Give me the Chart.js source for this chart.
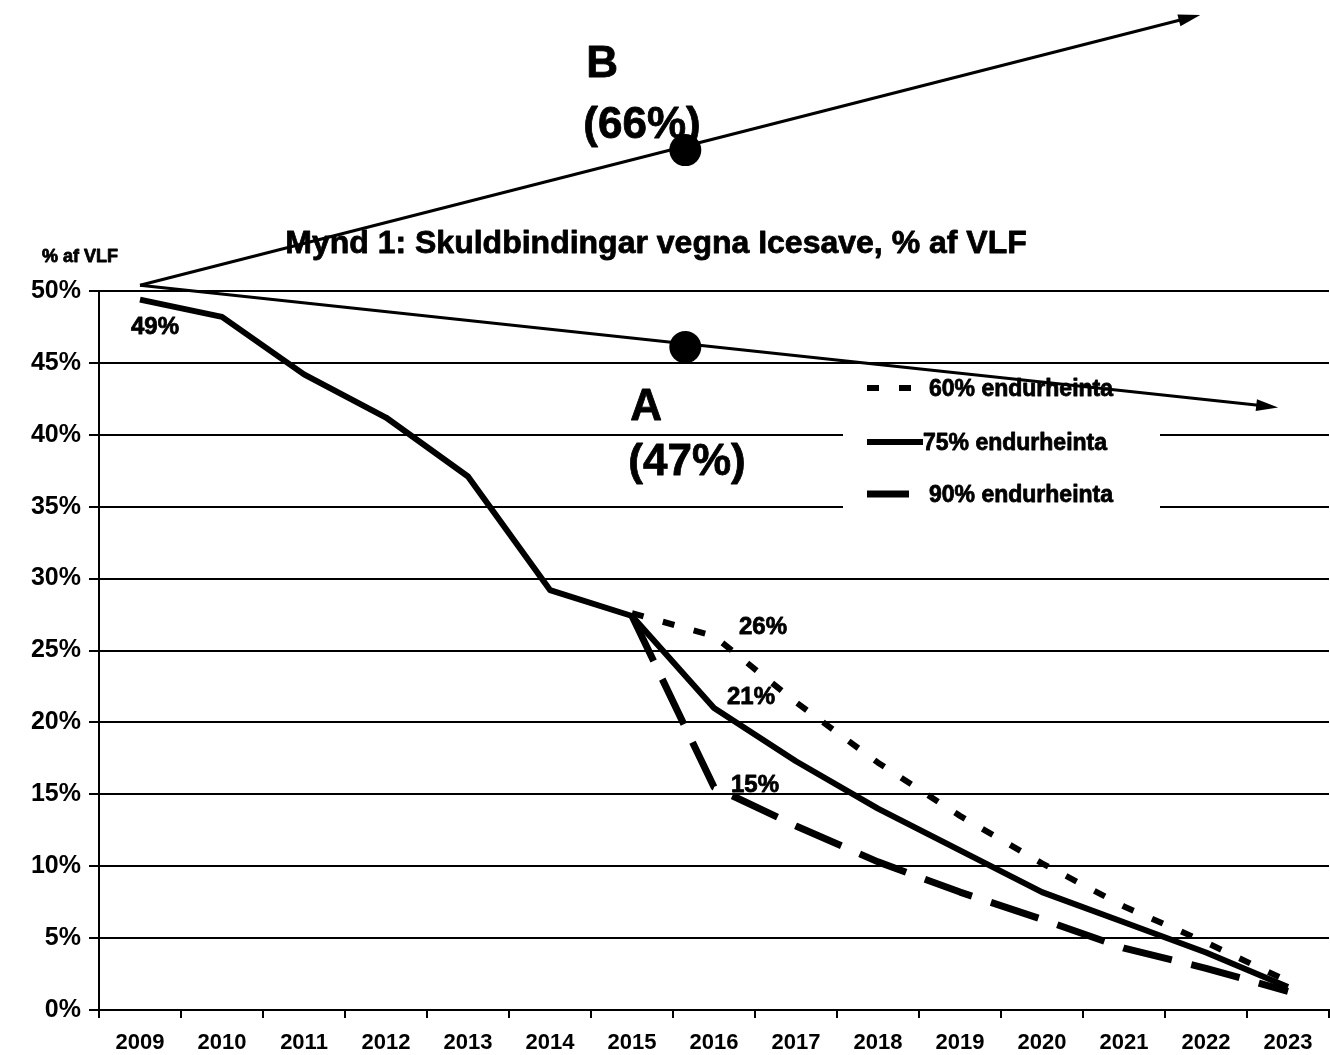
<!DOCTYPE html>
<html>
<head>
<meta charset="utf-8">
<title>Mynd 1: Skuldbindingar vegna Icesave</title>
<script src="https://cdn.jsdelivr.net/npm/chart.js@4.4.1/dist/chart.umd.min.js"></script>
<style>
    body { margin: 0; background: #fff; }
    #wrap { width: 1330px; height: 1055px; position: relative; }
</style>
</head>
<body>
<div id="wrap"><canvas id="myChart"></canvas></div>
<script>
// years on the x axis
const years = ['2009', '2010', '2011', '2012', '2013', '2014', '2015', '2016',
               '2017', '2018', '2019', '2020', '2021', '2022', '2023'];

// % af VLF for each recovery rate
const recovery60 = [null, null, null, null, null, null, 27.6, 26.0, 21.4, 17.2, 13.5, 10.2, 7.2, 4.7, 2.0];
const recovery75 = [49.4, 48.2, 44.2, 41.2, 37.1, 29.2, 27.4, 21.0, 17.3, 14.0, 11.1, 8.2, 6.1, 4.0, 1.6];
const recovery90 = [null, null, null, null, null, null, 27.4, 15.5, 12.8, 10.3, 8.2, 6.3, 4.3, 2.9, 1.3];

const seriesLabels = ['60% endurheinta', '75% endurheinta', '90% endurheinta'];

// y axis
const yMin = 0;
const yMax = 50;
const yStep = 5;

// value callouts: [series index, year, text]
const callouts = [
    [1, '2009', '49%'],
    [0, '2016', '26%'],
    [1, '2016', '21%'],
    [2, '2016', '15%']
];

// scenario arrows (x as category index, y as % af VLF)
const scenarioNames = ['A', 'B'];
const scenarioShares = ['(47%)', '(66%)'];
const arrowStart = [0, 50.4];
const arrowEnds = [[13.88, 41.9], [12.93, 69.2]];
const scenarioDots = [[6.65, 46.1], [6.65, 59.8]];

const FONT = "'Liberation Sans', Arial, sans-serif";

function drawArrow(ctx, x1, y1, x2, y2) {
    const ang = Math.atan2(y2 - y1, x2 - x1);
    const len = 22, half = 6;
    ctx.beginPath();
    ctx.moveTo(x1, y1);
    ctx.lineTo(x2 - Math.cos(ang) * len * 0.8, y2 - Math.sin(ang) * len * 0.8);
    ctx.stroke();
    ctx.beginPath();
    ctx.moveTo(x2, y2);
    ctx.lineTo(x2 - Math.cos(ang) * len + Math.sin(ang) * half, y2 - Math.sin(ang) * len - Math.cos(ang) * half);
    ctx.lineTo(x2 - Math.cos(ang) * len - Math.sin(ang) * half, y2 - Math.sin(ang) * len + Math.cos(ang) * half);
    ctx.closePath();
    ctx.fill();
}

// heavy text, the scan looks bolder than plain bold
function boldText(ctx, txt, x, y) {
    ctx.fillText(txt, x, y);
    ctx.strokeText(txt, x, y);
}

const extrasPlugin = {
    id: 'extras',
    afterDraw(chart) {
        const ctx = chart.ctx;
        const xs = chart.scales.x, ys = chart.scales.y;
        const area = chart.chartArea;
        ctx.save();
        ctx.fillStyle = '#000';
        ctx.strokeStyle = '#000';
        ctx.lineWidth = 0.8;
        ctx.lineJoin = 'round';

        // title
        ctx.font = 'bold 32px ' + FONT;
        ctx.textAlign = 'center';
        ctx.textBaseline = 'alphabetic';
        boldText(ctx, 'Mynd 1: Skuldbindingar vegna Icesave, % af VLF', 656, area.top - 38);

        // axis unit
        ctx.font = 'bold 18px ' + FONT;
        ctx.textAlign = 'left';
        boldText(ctx, '% af VLF', 42, area.top - 29);

        // value callouts
        const offsets = [[15, 28], [49, -9], [37, -11], [41, -2]];
        ctx.font = 'bold 24px ' + FONT;
        ctx.textAlign = 'center';
        ctx.textBaseline = 'middle';
        callouts.forEach((c, i) => {
            const meta = chart.getDatasetMeta(c[0]);
            const pt = meta.data[years.indexOf(c[1])];
            boldText(ctx, c[2], pt.x + offsets[i][0], pt.y + offsets[i][1]);
        });

        // legend box
        const lx = area.right - 486;
        const ly = ys.getPixelForValue(45) + 5;
        ctx.fillStyle = '#fff';
        ctx.fillRect(lx, ly, 317, 148);
        ctx.fillStyle = '#000';
        ctx.font = 'bold 23px ' + FONT;
        ctx.textAlign = 'left';
        const rowY = [20, 74, 126];
        chart.data.datasets.forEach((ds, i) => {
            const y = ly + rowY[i];
            ctx.save();
            ctx.lineWidth = ds.borderWidth;
            ctx.setLineDash(ds.borderDash || []);
            ctx.beginPath();
            ctx.moveTo(lx + 24, y);
            ctx.lineTo(lx + (i === 1 ? 80 : (i === 0 ? 74 : 66)), y);
            ctx.stroke();
            ctx.restore();
            boldText(ctx, ds.label, lx + (i === 1 ? 80 : 86), y + 2);
        });

        // scenario arrows
        const x0 = xs.getPixelForValue(arrowStart[0]);
        const y0 = ys.getPixelForValue(arrowStart[1]);
        ctx.lineWidth = 3;
        arrowEnds.forEach(e => {
            drawArrow(ctx, x0, y0, xs.getPixelForValue(e[0]), ys.getPixelForValue(e[1]));
        });
        const dots = scenarioDots.map(d => [xs.getPixelForValue(d[0]), ys.getPixelForValue(d[1])]);
        dots.forEach(d => {
            ctx.beginPath();
            ctx.arc(d[0], d[1], 16, 0, Math.PI * 2);
            ctx.fill();
        });

        // scenario labels
        ctx.lineWidth = 0.8;
        ctx.font = 'bold 44px ' + FONT;
        ctx.textAlign = 'left';
        ctx.textBaseline = 'alphabetic';
        boldText(ctx, scenarioNames[0], dots[0][0] - 55, dots[0][1] + 73);
        boldText(ctx, scenarioShares[0], dots[0][0] - 57, dots[0][1] + 128);
        boldText(ctx, scenarioNames[1], dots[1][0] - 99, dots[1][1] - 73);
        boldText(ctx, scenarioShares[1], dots[1][0] - 102, dots[1][1] - 12);

        ctx.restore();
    }
};

const ctx = document.getElementById('myChart').getContext('2d');
new Chart(ctx, {
    type: 'line',
    data: {
        labels: years,
        datasets: [
            {
                label: seriesLabels[0],
                data: recovery60,
                borderColor: '#000',
                borderWidth: 6,
                borderDash: [12, 20]
            },
            {
                label: seriesLabels[1],
                data: recovery75,
                borderColor: '#000',
                borderWidth: 6
            },
            {
                label: seriesLabels[2],
                data: recovery90,
                borderColor: '#000',
                borderWidth: 7,
                borderDash: [50, 20]
            }
        ]
    },
    options: {
        responsive: true,
        maintainAspectRatio: false,
        animation: false,
        layout: { padding: { top: 291, right: 1, left: 0, bottom: 0 } },
        elements: {
            point: { radius: 0 },
            line: { tension: 0, fill: false, borderCapStyle: 'butt', borderJoinStyle: 'round' }
        },
        plugins: {
            legend: { display: false },
            tooltip: { enabled: false }
        },
        scales: {
            x: {
                offset: true,
                grid: {
                    offset: true,
                    drawOnChartArea: false,
                    drawTicks: true,
                    tickLength: 8,
                    color: '#000',
                    lineWidth: 2
                },
                border: { display: true, color: '#000', width: 2 },
                ticks: {
                    color: '#000',
                    font: { family: FONT, size: 22, weight: 'bold' },
                    padding: 12,
                    maxRotation: 0,
                    autoSkip: false
                },
                afterFit(scale) { scale.height = 45; }
            },
            y: {
                min: yMin,
                max: yMax,
                ticks: {
                    stepSize: yStep,
                    color: '#000',
                    font: { family: FONT, size: 25, weight: 'bold' },
                    padding: 8,
                    callback: v => v + '%'
                },
                grid: { color: '#000', lineWidth: 2, tickLength: 10 },
                border: { display: true, color: '#000', width: 2 },
                afterFit(scale) { scale.width = 99; }
            }
        }
    },
    plugins: [extrasPlugin]
});
</script>
</body>
</html>
